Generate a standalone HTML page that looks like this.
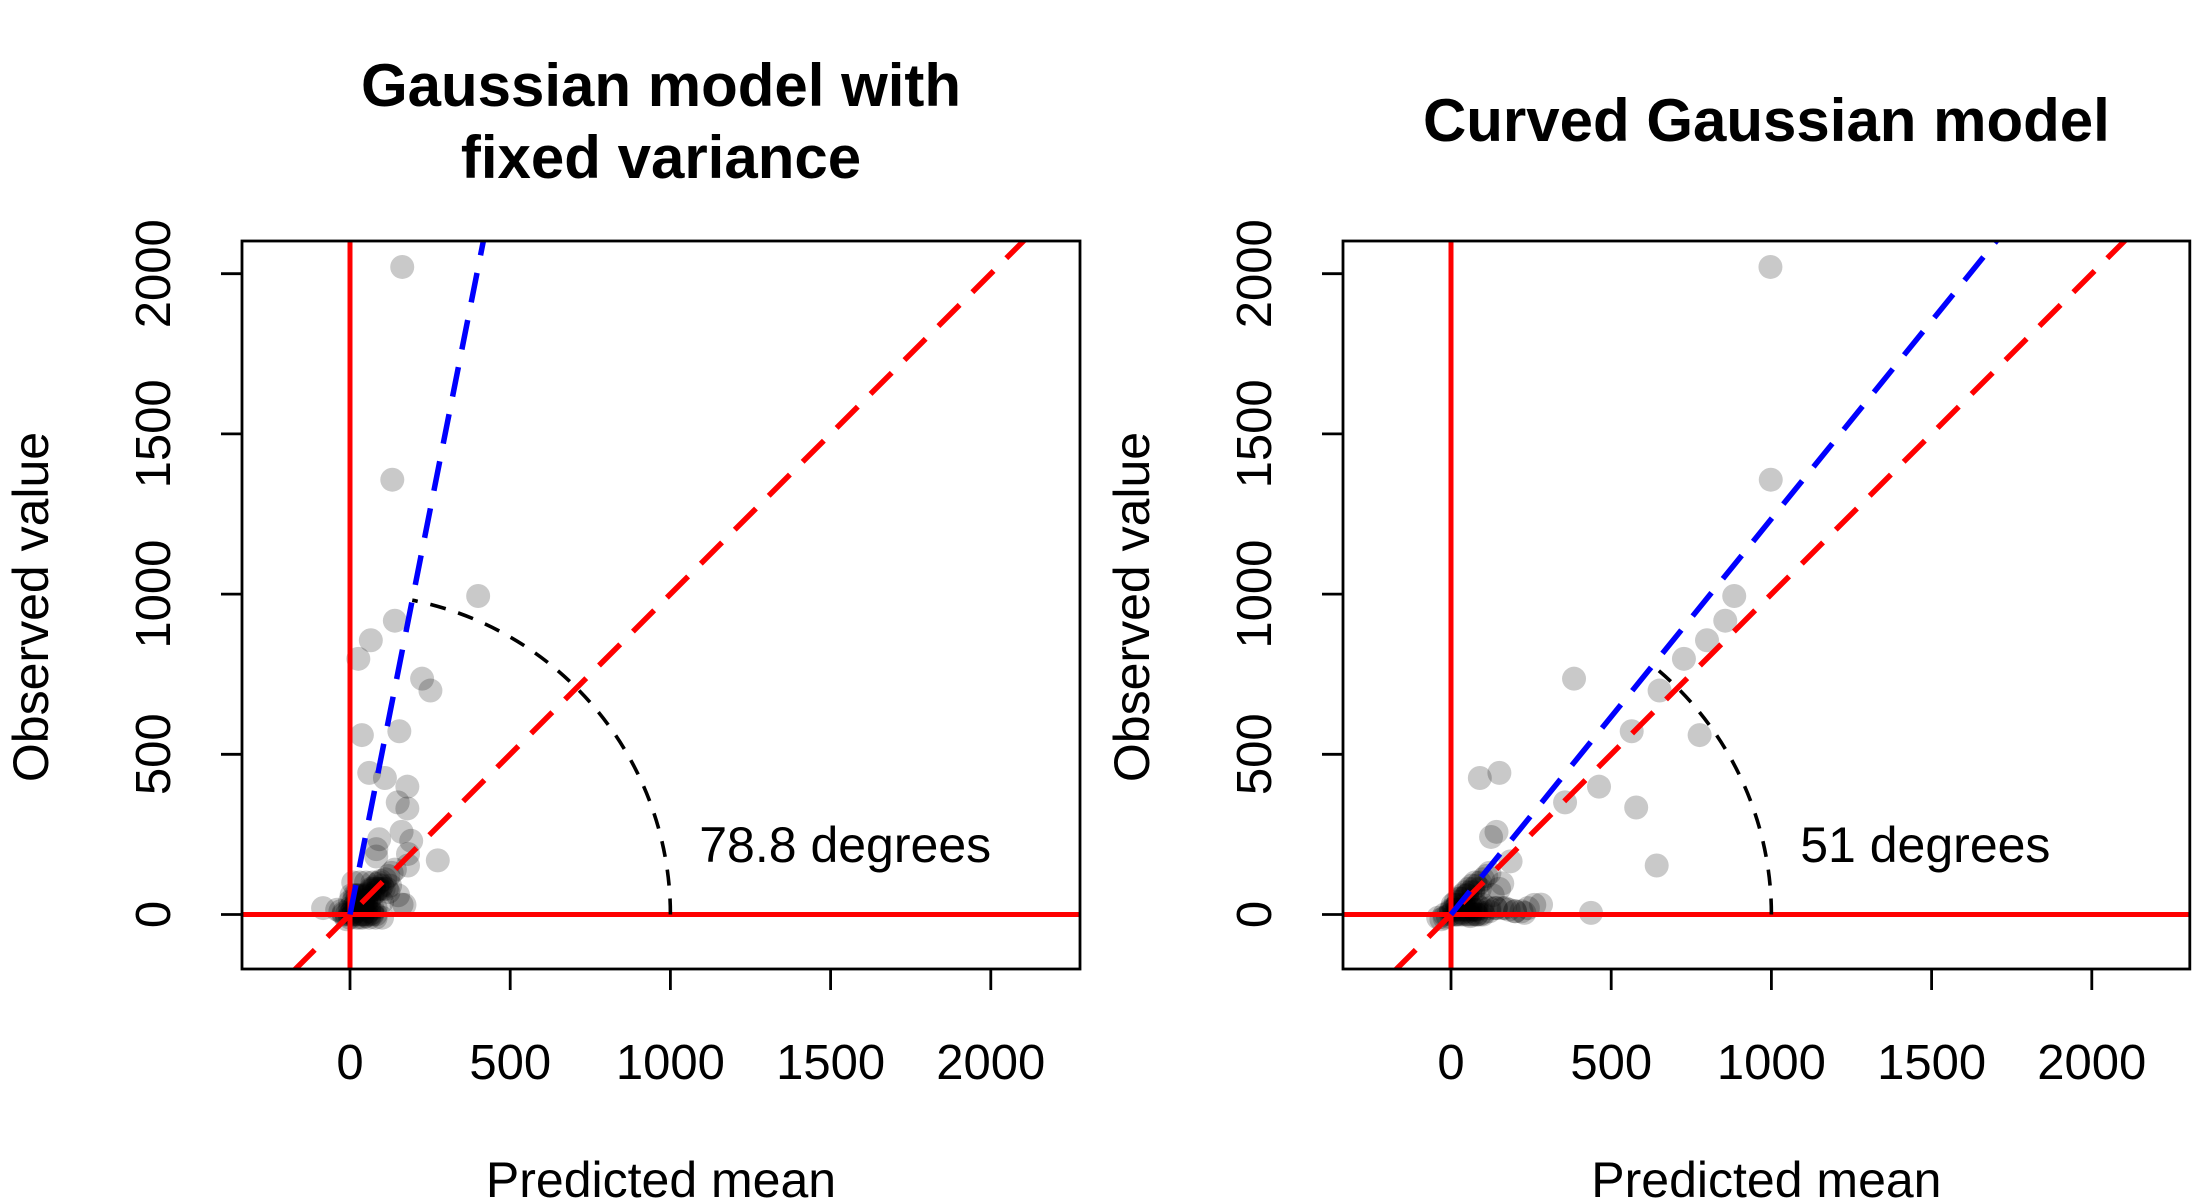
<!DOCTYPE html>
<html><head><meta charset="utf-8">
<style>
html,body{margin:0;padding:0;background:#fff;}
svg{display:block;font-family:"Liberation Sans",Arial,sans-serif;}
</style></head>
<body>
<svg id="chart" width="2200" height="1200" viewBox="0 0 2200 1200" xmlns="http://www.w3.org/2000/svg">
<defs>
<clipPath id="clipL"><rect x="242" y="241" width="838" height="728"/></clipPath>
<clipPath id="clipR"><rect x="1343" y="241" width="847" height="728"/></clipPath>
</defs>
<g id="panels"></g>
</svg>
<script>
const xTicks = [0, 500, 1000, 1500, 2000];
const yTicks = [0, 500, 1000, 1500, 2000];
const titlesLeft = ["Gaussian model with", "fixed variance"];
const titlesRight = ["Curved Gaussian model"];
const anglesDeg = [78.8, 51];
const angleLabels = ["78.8 degrees", "51 degrees"];
const leftPredicted = [163,132,400,140,65,26,225,251,37,154,60,109,179,149,179,161,91,191,82,181,274,181,82,161,-84,-40,10,20,30,40,50,60,70,80,90,100,5,15,25,35,45,55,65,75,85,95,110,120,130,140,40,60,20,80,100,120,30,50,70,-20,0,10,150,170,
 0,10,20,30,40,50,60,70,80,0,10,20,30,40,50,60,70,0,10,20,30,40,50,60,-10,-20,5,15,25,35,45,55,65,75,85,95,105,115,125,20,40,60,80,100,-30,-10,30,50,70,90];
const leftObserved = [2021,1357,994,917,856,798,736,699,560,572,442,426,399,350,331,258,235,230,204,189,169,153,181,31,20,15,0,10,20,30,40,50,60,70,80,90,5,25,35,45,55,65,75,85,95,105,110,120,130,140,0,10,60,20,40,70,-10,-5,5,0,-10,100,60,30,
 0,0,0,0,0,0,0,0,0,20,20,20,20,20,20,20,20,40,40,40,40,40,40,40,0,5,60,60,60,60,60,60,80,80,80,80,80,80,90,-10,-10,-10,-10,-10,10,-15,100,100,100,100];
const rightPredicted = [997,998,884,856,799,727,384,651,564,776,90,151,462,356,578,642,437,281,229,168,125,142,186,160,-40,-20,0,10,20,30,40,50,60,70,80,90,100,110,120,15,35,55,75,95,130,150,100,120,140,60,80,200,240,260,
 0,10,20,30,40,50,60,70,80,90,100,0,10,20,30,40,50,60,70,80,5,15,25,35,45,55,65,75,-10,-20,-30,20,40,60,80,100,120,140,160,180,200,220,30,50,70,90];
const rightObserved = [2021,1357,994,917,856,798,736,699,572,560,426,442,399,350,334,153,5,31,5,20,242,258,166,97,-10,0,10,20,30,40,50,60,70,80,90,100,110,120,130,0,5,10,15,20,60,80,5,10,20,-5,0,10,20,30,
 0,0,0,0,0,0,0,0,0,0,0,15,15,15,15,15,15,15,15,15,30,40,50,60,70,80,90,100,-5,-10,-15,30,30,30,30,30,20,20,20,15,10,10,50,60,70,80];

const svg = document.getElementById('chart');
const root = document.getElementById('panels');
const NS = 'http://www.w3.org/2000/svg';
function mk(tag, attrs, parent){
  const e = document.createElementNS(NS, tag);
  for (const k in attrs) e.setAttribute(k, attrs[k]);
  (parent||root).appendChild(e);
  return e;
}
const K = 0.3204;
function drawPanel(off, clipId, titles, px, py, angle, label, idx){
  const x0 = 350 + off, y0 = 914.5;
  const sx = v => x0 + v*K;
  const sy = v => y0 - v*K;
  const left = 242 + off, right = 1080 + off*1.008, top = 241, bottom = 969;
  const g = mk('g', {});
  
  
  const cx = (left+right)/2;
  titles.forEach((t,i)=>{
    const ty = titles.length===2 ? 106 + i*72 : 141;
    const te = mk('text', {x: cx, y: ty, 'text-anchor':'middle', 'font-size':'60', 'font-weight':'bold'}, g);
    te.textContent = t;
    
    
  });
  const pg = mk('g', {'clip-path':'url(#'+clipId+')'}, g);
  for (let i=0;i<px.length;i++){
    const c = mk('circle', {cx: sx(px[i]), cy: sy(py[i]), r: 12, fill:'rgba(0,0,0,0.21)'}, pg);
    
    
  }
  const v = mk('line', {x1: sx(0), x2: sx(0), y1: top, y2: bottom, stroke:'#ff0000', 'stroke-width':5}, pg);
  
  
  const h = mk('line', {x1: left, x2: right, y1: sy(0), y2: sy(0), stroke:'#ff0000', 'stroke-width':5}, pg);
  
  
  const idl = mk('line', {x1: sx(-600), y1: sy(-600), x2: sx(3000), y2: sy(3000), stroke:'#ff0000', 'stroke-width':5.5, 'stroke-dasharray':'30 18'}, pg);
  
  
  const s = Math.tan(angle*Math.PI/180);
  const bl = mk('line', {x1: sx(0), y1: sy(0), x2: sx(3000/s), y2: sy(3000), stroke:'#0000ff', 'stroke-width':5.5, 'stroke-dasharray':'30 18'}, pg);
  
  
  const a = angle*Math.PI/180;
  const R = 1000*K;
  const arc = mk('path', {d: 'M'+(sx(0)+R)+' '+sy(0)+' A'+R+' '+R+' 0 0 0 '+(sx(0)+R*Math.cos(a))+' '+(sy(0)-R*Math.sin(a)), fill:'none', stroke:'#000', 'stroke-width':3.6, 'stroke-dasharray':'16 13'}, pg);
  
  
  const at = mk('text', {x: sx(1090), y: sy(217)+17, 'font-size':'50'}, g);
  at.textContent = label;
  
  
  const box = mk('rect', {x:left, y:top, width:right-left, height:bottom-top, fill:'none', stroke:'#000', 'stroke-width':2.8}, g);
  
  
  xTicks.forEach(t=>{
    const l = mk('line', {x1: sx(t), x2: sx(t), y1: bottom, y2: bottom+21, stroke:'#000', 'stroke-width':2.8}, g);
    
    
    const tx = mk('text', {x: sx(t), y: 1079, 'text-anchor':'middle', 'font-size':'49'}, g);
    tx.textContent = t;
    
    
  });
  yTicks.forEach(t=>{
    const l = mk('line', {x1: left-21, x2: left, y1: sy(t), y2: sy(t), stroke:'#000', 'stroke-width':2.8}, g);
    
    
    const tx = mk('text', {x: 0, y: 0, 'text-anchor':'middle', 'font-size':'49', transform:'translate('+(left-89)+','+sy(t)+') rotate(-90) translate(0,17)'}, g);
    tx.textContent = t;
    
    
  });
  const xl = mk('text', {x: cx, y: 1197, 'text-anchor':'middle', 'font-size':'50'}, g);
  xl.textContent = 'Predicted mean';
  
  
  const yl = mk('text', {x:0, y:0, 'text-anchor':'middle', 'font-size':'50', transform:'translate('+(off+31)+',607) rotate(-90) translate(0,17)'}, g);
  yl.textContent = 'Observed value';
  
  
}
drawPanel(0, 'clipL', titlesLeft, leftPredicted, leftObserved, anglesDeg[0], angleLabels[0], 0);
drawPanel(1101, 'clipR', titlesRight, rightPredicted, rightObserved, anglesDeg[1], angleLabels[1], 1);
</script>
</body></html>
